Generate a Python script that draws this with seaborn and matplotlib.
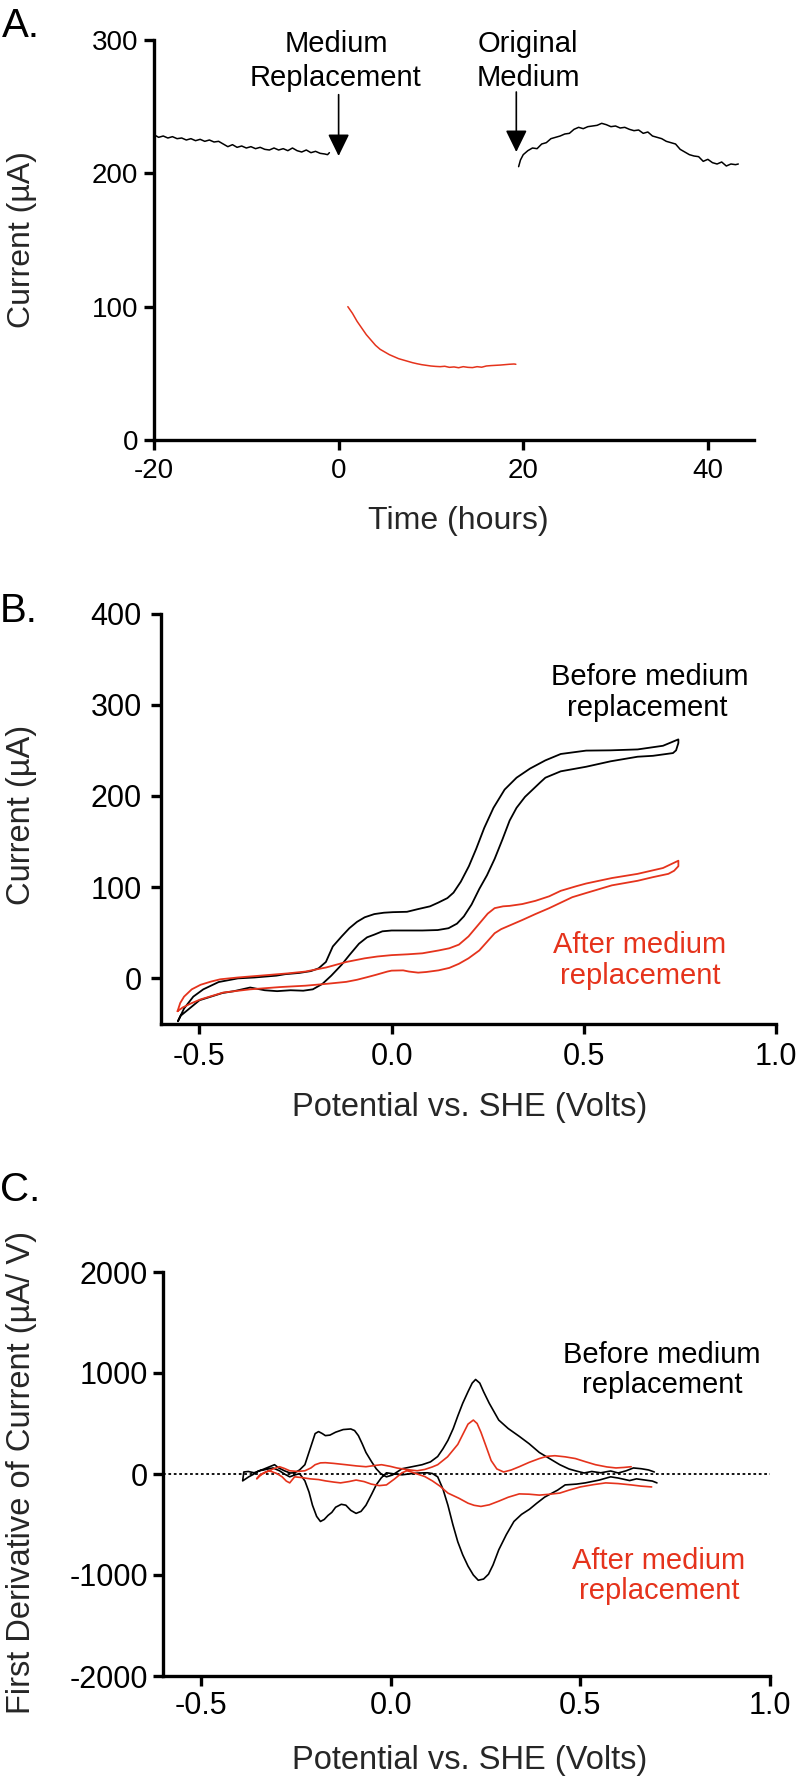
import matplotlib
matplotlib.use('Agg')
import matplotlib.pyplot as plt
import seaborn as sns
import numpy as np

sns.set_style('ticks')
plt.rcParams.update({
    'axes.unicode_minus': False,
    'axes.spines.top': False,
    'axes.spines.right': False,
    'axes.linewidth': 2.4,
    'xtick.direction': 'out',
    'ytick.direction': 'out',
    'xtick.major.size': 7.2,
    'ytick.major.size': 7.2,
    'xtick.major.width': 2.4,
    'ytick.major.width': 2.4,
    'axes.edgecolor': 'black',
    'text.color': 'black',
})
plt.rcParams['font.family'] = ['Liberation Sans', 'DejaVu Sans']

W, H = 798, 1777
RED = '#e5331c'

# ── Panel A: current vs time ─────────────────────────────────
before_t = [-20, -19.5, -19, -18.5, -18, -17.5, -17, -16.5, -16, -15.5, -15, -14.5, -14,
            -13.5, -13, -12.5, -12, -11.5, -11, -10.5, -10, -9.5, -9, -8.5, -8, -7.5, -7,
            -6.5, -6, -5.5, -5, -4.5, -4, -3.5, -3, -2.5, -2, -1.5, -1.2, -1]
before_i = [229, 227, 228, 226.5, 227.5, 226, 226.5, 225, 226, 224.5, 225.5, 224, 225,
            223.5, 224, 222, 220, 221.5, 219.5, 220.5, 219, 220, 218.5, 219.5, 218, 217.5, 219,
            217.5, 218.5, 217, 219, 217, 216, 217.5, 215.5, 216.5, 215, 214.5, 214, 215.5]

replaced_t = [1.0, 1.5, 2.0, 2.5, 3.0, 3.5, 4.0, 4.5, 5.0, 5.5, 6.0, 6.5, 7.0, 7.5, 8.0, 8.5,
              9.0, 9.5, 10, 10.5, 11, 11.5, 12, 12.5, 13, 13.5, 14, 14.5, 15, 15.5, 16, 16.5,
              17, 17.5, 18, 18.5, 19.0, 19.2]
replaced_i = [100, 95, 89, 84, 79, 75, 71, 68, 66, 64, 62.5, 61, 60, 59, 58, 57.2,
              56.5, 56, 55.5, 55.2, 55, 55.3, 54.5, 54.8, 54.2, 55, 54.5, 54.3, 55, 54.6, 55.5, 55.8,
              56, 56.2, 56.5, 56.8, 57, 56.8]

original_t = [19.5, 19.7, 20.0, 20.5, 21, 21.5, 22, 22.5, 23, 23.5, 24, 24.5, 25, 25.5, 26,
              26.5, 27, 27.5, 28, 28.5, 29, 29.5, 30, 30.5, 31, 31.5, 32, 32.5, 33, 33.5, 34,
              34.5, 35, 35.5, 36, 36.5, 37, 37.5, 38, 38.5, 39, 39.5, 40, 40.5, 41, 41.5, 42,
              42.5, 43, 43.3]
original_i = [205, 210, 214, 217, 219, 218.5, 222, 223, 226, 227, 228, 229.5, 230, 233, 234.5,
              233.5, 235, 235.5, 236, 237.5, 236.5, 235, 235.5, 234, 234.5, 233, 232, 232.5, 230, 231, 228,
              227, 226, 224, 223, 222, 218, 216, 214, 213, 212.5, 209, 210.5, 208, 207, 208.5, 205.5,
              207, 206.5, 207]

# ── Panel B: cyclic voltammograms (potential V, current uA) ───
cv_before_v = [-0.556, -0.54, -0.516, -0.49, -0.45, -0.40, -0.357, -0.30, -0.277, -0.24, -0.21,
               -0.19, -0.171, -0.153, -0.13, -0.110, -0.09, -0.07, -0.045, -0.02, 0.003, 0.04,
               0.069, 0.10, 0.121, 0.145, 0.161, 0.18, 0.201, 0.22, 0.241, 0.265, 0.294, 0.325,
               0.36, 0.40, 0.44, 0.506, 0.57, 0.64, 0.706, 0.746,
               0.746, 0.74, 0.732, 0.68, 0.64, 0.57, 0.506, 0.44, 0.40, 0.387, 0.347, 0.325,
               0.307, 0.288, 0.268, 0.248, 0.228, 0.208, 0.188, 0.17, 0.148, 0.12, 0.08, 0.042,
               0.0, -0.024, -0.045, -0.064, -0.085, -0.109, -0.13, -0.157, -0.18, -0.205, -0.23,
               -0.263, -0.298, -0.33, -0.368, -0.41, -0.44, -0.47, -0.50, -0.523, -0.549, -0.556]
cv_before_i = [-47, -33, -20, -12, -4, 0, 1, 3, 4.6, 6, 8,
               11, 18, 35, 46, 55, 62, 67, 70.5, 72, 72.6, 73,
               76, 79, 83, 88, 94, 106, 123, 142, 165, 187, 207, 220,
               230, 239, 246, 249.7, 250, 251, 255, 262,
               258, 250, 247, 244, 243, 238, 232, 227, 220, 215, 199, 187,
               173, 152, 131, 113, 98, 81, 68, 60, 55, 53, 52.5, 52.5,
               52.5, 51.6, 48, 45, 38, 26, 15, 3, -6, -12, -13.5,
               -13, -14, -13, -10, -14, -16, -20, -24, -32, -41, -47]

cv_after_v = [-0.557, -0.55, -0.54, -0.52, -0.497, -0.47, -0.446, -0.40, -0.33, -0.27, -0.224,
              -0.17, -0.118, -0.07, -0.037, 0.0, 0.042, 0.08, 0.122, 0.15, 0.175, 0.20, 0.228,
              0.25, 0.268, 0.29, 0.307, 0.34, 0.374, 0.41, 0.44, 0.48, 0.506, 0.573, 0.64, 0.706,
              0.746,
              0.746, 0.735, 0.72, 0.68, 0.64, 0.573, 0.506, 0.47, 0.44, 0.41, 0.374, 0.34, 0.307,
              0.285, 0.268, 0.248, 0.228, 0.20, 0.175, 0.15, 0.122, 0.09, 0.069, 0.045, 0.03, 0.0,
              -0.011, -0.04, -0.064, -0.09, -0.118, -0.17, -0.224, -0.29, -0.368, -0.438, -0.497,
              -0.525, -0.544, -0.557]
cv_after_i = [-36, -27, -20, -12, -7, -3.5, -1, 1, 3.4, 5.5, 7.5,
              12, 18, 22, 24, 25.5, 26.4, 27.5, 30.6, 33, 37, 46, 60,
              71, 77, 79, 79.5, 81.5, 85, 90, 96, 101, 104, 110, 114.6, 121,
              129,
              123, 118, 114.6, 111, 107, 102, 93.6, 89, 83, 77, 70.5, 64, 58,
              54, 49.5, 40, 30.6, 22, 16, 11.5, 8.8, 7, 6.3, 7.5, 8.8, 8.5,
              7.5, 4, 1.3, -1.5, -3.8, -6, -8, -9.5, -12, -15.5, -23,
              -28, -32, -36]

# ── Panel C: first derivative (uA/V) ──────────────────────────
d_before_v = [0.702, 0.69, 0.67, 0.648, 0.63, 0.60, 0.58, 0.55, 0.513, 0.49, 0.46, 0.44, 0.42,
              0.406, 0.385, 0.366, 0.345, 0.325, 0.305, 0.285, 0.27, 0.258, 0.245, 0.231, 0.218,
              0.204, 0.19, 0.177, 0.164, 0.151, 0.138, 0.124, 0.11, 0.097, 0.075, 0.056, 0.03,
              0.01, -0.011, -0.025, -0.038, -0.05, -0.065, -0.078, -0.091, -0.105, -0.118, -0.13,
              -0.145, -0.155, -0.165, -0.175, -0.185, -0.195, -0.206, -0.215, -0.226, -0.24,
              -0.253, -0.266, -0.28, -0.293, -0.31, -0.32, -0.335, -0.347, -0.36, -0.374, -0.39,
              -0.387, -0.375, -0.36, -0.34, -0.32, -0.306, -0.295, -0.28, -0.265, -0.253, -0.24,
              -0.226, -0.212, -0.199, -0.19, -0.18, -0.172, -0.16, -0.145, -0.125, -0.105, -0.095,
              -0.085, -0.075, -0.065, -0.05, -0.038, -0.025, -0.011, 0.005, 0.03, 0.06, 0.083,
              0.105, 0.124, 0.138, 0.151, 0.165, 0.177, 0.19, 0.204, 0.215, 0.224, 0.235, 0.245,
              0.26, 0.285, 0.31, 0.339, 0.365, 0.392, 0.42, 0.446, 0.47, 0.487, 0.51, 0.53, 0.554,
              0.58, 0.60, 0.621, 0.64, 0.661, 0.68, 0.695]
d_before_i = [-88, -70, -60, -48, -65, -40, -28, -60, -88, -100, -108, -160, -200,
              -229, -290, -349, -400, -470, -600, -751, -900, -992, -1040, -1052, -1000,
              -912, -800, -671, -500, -309, -150, -28, 5, 12, 10, 4, -8,
              0, 12, -40, -108, -200, -309, -370, -390, -360, -309, -300,
              -329, -380, -410, -450, -470, -420, -309, -180, -68, 4,
              -10, -28, 0, 32, 60, 52, 40, 32, 0, -28, -68,
              20, 25, 12, 40, 70, 92, 60, 32, 10, 12, 40,
              92, 250, 400, 420, 400, 380, 385, 414, 440, 446, 430,
              380, 300, 213, 120, 52, 0, -28, -10, 52, 75, 92,
              120, 173, 250, 333, 450, 574, 700, 815, 900, 936, 900, 815,
              700, 534, 450, 373, 300, 213, 150, 92, 50, 32, 10, 25, 12,
              30, 10, 32, 60, 52, 40, 20]

d_after_v = [0.688, 0.66, 0.634, 0.60, 0.567, 0.535, 0.5, 0.47, 0.446, 0.42, 0.392, 0.365,
             0.339, 0.31, 0.285, 0.26, 0.238, 0.22, 0.204, 0.18, 0.151, 0.13, 0.11, 0.09, 0.07,
             0.055, 0.043, 0.03, 0.01, -0.011, -0.03, -0.051, -0.07, -0.091, -0.11, -0.132,
             -0.15, -0.172, -0.19, -0.212, -0.235, -0.253, -0.26, -0.266, -0.275, -0.286, -0.30,
             -0.32, -0.335, -0.345, -0.353,
             -0.345, -0.333, -0.31, -0.293, -0.28, -0.266, -0.245, -0.226, -0.21, -0.199, -0.185,
             -0.172, -0.15, -0.118, -0.09, -0.065, -0.04, -0.024, 0.0, 0.016, 0.04, 0.07, 0.09,
             0.11, 0.124, 0.15, 0.177, 0.19, 0.204, 0.218, 0.228, 0.238, 0.25, 0.265, 0.28,
             0.298, 0.318, 0.339, 0.365, 0.392, 0.412, 0.433, 0.46, 0.487, 0.515, 0.54, 0.57,
             0.594, 0.615, 0.634]
d_after_i = [-128, -120, -108, -95, -88, -105, -128, -160, -189, -200, -209, -200,
             -197, -230, -269, -305, -321, -310, -289, -240, -189, -120, -68, -25, 0,
             20, 32, 12, -50, -108, -115, -100, -75, -60, -75, -88,
             -80, -68, -55, -48, -35, -28, -60, -88, -70, -28, 5,
             32, 10, -20, -48,
             -10, 12, 50, 72, 55, 32, 25, 32, 60, 92, 110,
             112, 105, 92, 80, 72, 85, 92, 75, 60, 45, 32, 45,
             70, 92, 170, 293, 390, 494, 534, 500, 414, 290, 133, 50,
             20, 40, 72, 115, 153, 175, 181, 170, 153, 120, 92, 70,
             60, 65, 72]

fig = plt.figure(figsize=(W / 100, H / 100), dpi=100)


def px_box(left, right, top, bottom):
    return [left / W, 1 - bottom / H, (right - left) / W, (bottom - top) / H]


def ftext(x, y, s, **kw):
    fig.text(x / W, 1 - y / H, s, **kw)


def style_axis(ax, tick_fs, ypad, xpad):
    ax.tick_params(axis='both', labelsize=tick_fs, color='black', labelcolor='black')
    ax.tick_params(axis='y', pad=ypad)
    ax.tick_params(axis='x', pad=xpad)
    for s in ['left', 'bottom']:
        ax.spines[s].set_linewidth(2.4)
        ax.spines[s].set_color('black')
    ax.grid(False)


# Panel A
axA = fig.add_axes(px_box(154, 754, 40, 440))
sns.lineplot(x=before_t, y=before_i, color='black', lw=1.1, sort=False, estimator=None, ax=axA)
sns.lineplot(x=replaced_t, y=replaced_i, color=RED, lw=1.1, sort=False, estimator=None, ax=axA)
sns.lineplot(x=original_t, y=original_i, color='black', lw=1.1, sort=False, estimator=None, ax=axA)
axA.set_xlim(-20, 45)
axA.set_ylim(0, 300)
axA.set_xticks([-20, 0, 20, 40])
axA.set_yticks([0, 100, 200, 300])
style_axis(axA, 20, 4.3, 5.8)
arrow = dict(arrowstyle='-|>,head_length=0.45,head_width=0.22', color='black', lw=1.2,
             mutation_scale=30, shrinkA=0, shrinkB=0)
axA.annotate('', xy=(0, 213), xytext=(0, 259), arrowprops=arrow, annotation_clip=False)
axA.annotate('', xy=(19.25, 216), xytext=(19.25, 261), arrowprops=arrow, annotation_clip=False)
axA.set_xlabel('Time (hours)', fontsize=23)
axA.set_ylabel('Current (\u00b5A)', fontsize=23)
axA.xaxis.set_label_coords(458 / W, 1 - 529 / H, transform=fig.transFigure)
axA.xaxis.label.set_va('baseline')
axA.yaxis.set_label_coords(37 / W, 1 - 240 / H, transform=fig.transFigure)

# Panel B
axB = fig.add_axes(px_box(161, 776, 613.5, 1024))
sns.lineplot(x=cv_before_v, y=cv_before_i, color='black', lw=1.3, sort=False, estimator=None, ax=axB)
sns.lineplot(x=cv_after_v, y=cv_after_i, color=RED, lw=1.3, sort=False, estimator=None, ax=axB)
axB.set_xlim(-0.6, 1.0)
axB.set_ylim(-50, 400)
axB.set_xticks([-0.5, 0.0, 0.5, 1.0])
axB.set_xticklabels(['-0.5', '0.0', '0.5', '1.0'])
axB.set_yticks([0, 100, 200, 300, 400])
style_axis(axB, 22, 6.5, 5.8)
axB.set_xlabel('Potential vs. SHE (Volts)', fontsize=23.5)
axB.set_ylabel('Current (\u00b5A)', fontsize=23.5)
axB.xaxis.set_label_coords(470 / W, 1 - 1116 / H, transform=fig.transFigure)
axB.xaxis.label.set_va('baseline')
axB.yaxis.set_label_coords(37 / W, 1 - 815 / H, transform=fig.transFigure)

# Panel C
axC = fig.add_axes(px_box(163, 770, 1272, 1676))
axC.axhline(0, color='black', lw=1.3, ls=(0, (1.5, 1.5)))
sns.lineplot(x=d_before_v, y=d_before_i, color='black', lw=1.2, sort=False, estimator=None, ax=axC)
sns.lineplot(x=d_after_v, y=d_after_i, color=RED, lw=1.2, sort=False, estimator=None, ax=axC)
axC.set_xlim(-0.6, 1.0)
axC.set_ylim(-2000, 2000)
axC.set_xticks([-0.5, 0.0, 0.5, 1.0])
axC.set_xticklabels(['-0.5', '0.0', '0.5', '1.0'])
axC.set_yticks([-2000, -1000, 0, 1000, 2000])
style_axis(axC, 22, 3.6, 3.6)
axC.set_xlabel('Potential vs. SHE (Volts)', fontsize=23.5)
axC.set_ylabel('First Derivative of Current (\u00b5A/ V)', fontsize=23.5)
axC.xaxis.set_label_coords(470 / W, 1 - 1769 / H, transform=fig.transFigure)
axC.xaxis.label.set_va('baseline')
axC.yaxis.set_label_coords(37 / W, 1 - 1472 / H, transform=fig.transFigure)

# Panel letters
ftext(2, 37, 'A.', fontsize=29, va='baseline')
ftext(0, 622, 'B.', fontsize=29, va='baseline')
ftext(0, 1201, 'C.', fontsize=29, va='baseline')

# Annotations
for x, y, s, c in [
    (336, 52, 'Medium', 'black'), (336, 86, 'Replacement', 'black'),
    (528, 52, 'Original', 'black'), (528, 86, 'Medium', 'black'),
    (650, 685, 'Before medium', 'black'), (647, 716, 'replacement', 'black'),
    (640, 953, 'After medium', RED), (640, 984, 'replacement', RED),
    (662, 1363, 'Before medium', 'black'), (662, 1393, 'replacement', 'black'),
    (659, 1569, 'After medium', RED), (659, 1599, 'replacement', RED),
]:
    ftext(x, y, s, fontsize=21, ha='center', va='baseline', color=c)

fig.savefig('out.png', dpi=100)
